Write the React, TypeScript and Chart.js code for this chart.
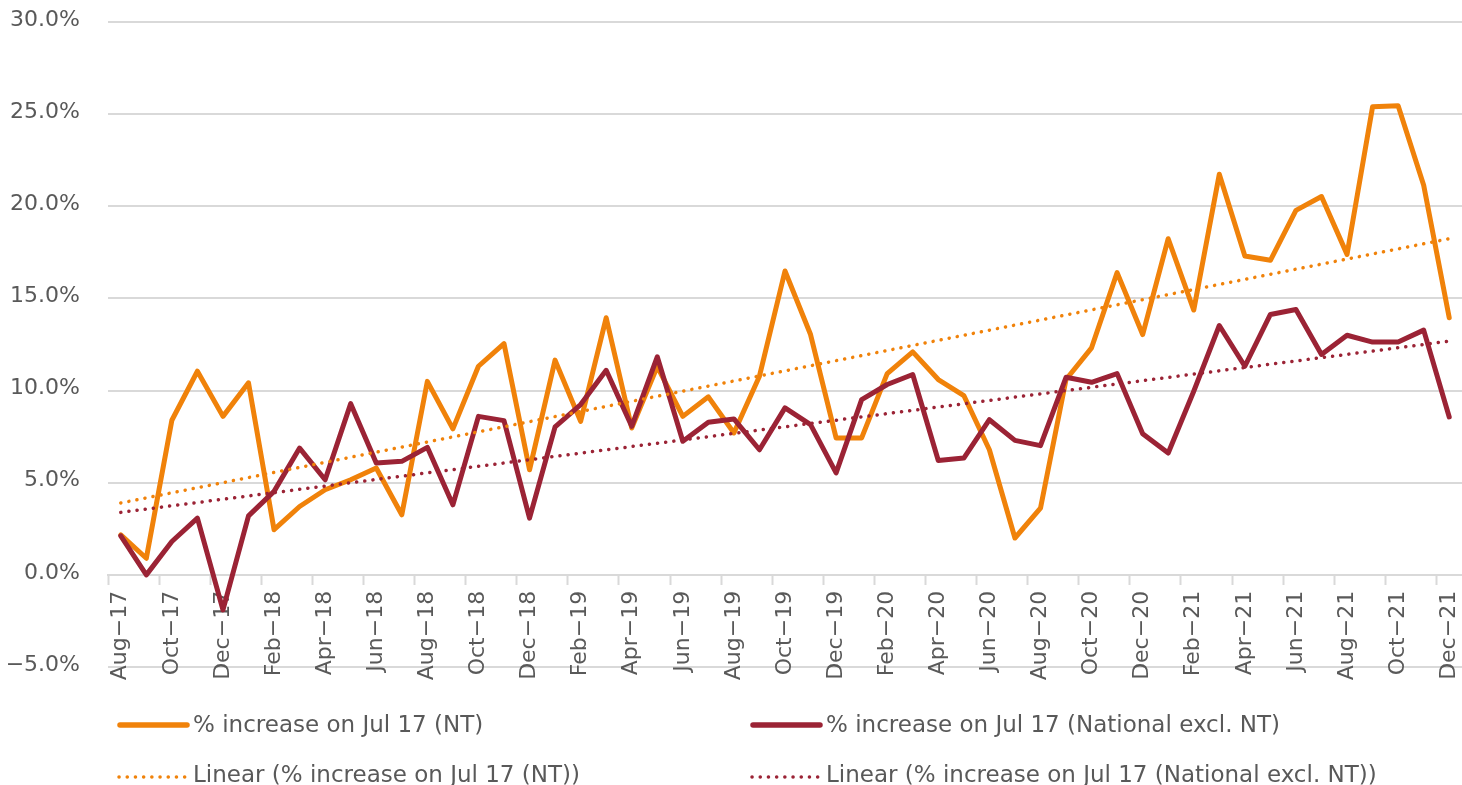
import React, { useEffect, useRef } from 'react';
import { Chart, registerables } from 'chart.js';

Chart.register(...registerables);

// ---- data ----
const months = [
  'Aug−17', 'Sep−17', 'Oct−17', 'Nov−17', 'Dec−17',
  'Jan−18', 'Feb−18', 'Mar−18', 'Apr−18', 'May−18', 'Jun−18', 'Jul−18', 'Aug−18', 'Sep−18', 'Oct−18', 'Nov−18', 'Dec−18',
  'Jan−19', 'Feb−19', 'Mar−19', 'Apr−19', 'May−19', 'Jun−19', 'Jul−19', 'Aug−19', 'Sep−19', 'Oct−19', 'Nov−19', 'Dec−19',
  'Jan−20', 'Feb−20', 'Mar−20', 'Apr−20', 'May−20', 'Jun−20', 'Jul−20', 'Aug−20', 'Sep−20', 'Oct−20', 'Nov−20', 'Dec−20',
  'Jan−21', 'Feb−21', 'Mar−21', 'Apr−21', 'May−21', 'Jun−21', 'Jul−21', 'Aug−21', 'Sep−21', 'Oct−21', 'Nov−21', 'Dec−21',
];

// % increase on Jul 17 (NT)
const ntValues = [
  2.17, 0.9, 8.39, 11.05, 8.6,
  10.42, 2.45, 3.71, 4.62, 5.16, 5.8, 3.26, 10.5, 7.92, 11.32, 12.55, 5.7,
  11.65, 8.33, 13.95, 7.97, 11.3, 8.6, 9.66, 7.7, 10.78, 16.49, 13.04, 7.43,
  7.43, 10.92, 12.1, 10.6, 9.73, 6.79, 2.0, 3.62, 10.6, 12.32, 16.4, 13.04,
  18.24, 14.37, 21.74, 17.3, 17.07, 19.78, 20.53, 17.39, 25.4, 25.45, 21.14, 13.95,
];

// % increase on Jul 17 (National excl. NT)
const nationalValues = [
  2.12, 0.0, 1.81, 3.08, -1.9,
  3.2, 4.53, 6.88, 5.16, 9.29, 6.07, 6.16, 6.92, 3.8, 8.6, 8.37, 3.08,
  8.03, 9.24, 11.1, 8.06, 11.83, 7.25, 8.28, 8.46, 6.79, 9.06, 8.15, 5.53,
  9.51, 10.33, 10.87, 6.21, 6.34, 8.42, 7.3, 7.01, 10.72, 10.45, 10.92, 7.66,
  6.61, 9.96, 13.53, 11.32, 14.13, 14.4, 11.96, 13.0, 12.63, 12.63, 13.28, 8.57,
];

// linear trend lines: value at first month, value at last month
const ntTrend = [3.9, 18.24];
const nationalTrend = [3.39, 12.68];

const seriesNames = [
  '% increase on Jul 17 (NT)',
  '% increase on Jul 17 (National excl. NT)',
  'Linear (% increase on Jul 17 (NT))',
  'Linear (% increase on Jul 17 (National excl. NT))',
];

const yMin = -5;
const yMax = 30;
const yStep = 5;

// ---- styles ----
const ORANGE = '#F0820A';
const RED = '#9B2335';
const TEXT = '#595959';
const GRID = '#d9d9d9';
const FONT = '"DejaVu Sans", sans-serif';
const DOT_DASH = [0.1, 8.1];

function trendSeries(endpoints: number[]) {
  return months.map((_, i) => (i === 0 ? endpoints[0] : i === months.length - 1 ? endpoints[1] : null));
}

const legendPlugin = {
  id: 'gridLegend',
  afterDraw(chart: any) {
    const ctx = chart.ctx as CanvasRenderingContext2D;
    const slots = [
      { x: 117, y: 725, base: 732 },
      { x: 750, y: 725, base: 732 },
      { x: 117, y: 777, base: 782 },
      { x: 750, y: 777, base: 782 },
    ];
    chart.data.datasets.forEach((ds: any, i: number) => {
      const s = slots[i];
      if (!s) return;
      ctx.save();
      ctx.strokeStyle = ds.borderColor;
      ctx.lineCap = 'round';
      if (ds.borderDash && ds.borderDash.length) {
        ctx.lineWidth = 3.5;
        ctx.setLineDash(DOT_DASH);
        ctx.beginPath();
        ctx.moveTo(s.x + 2, s.y);
        ctx.lineTo(s.x + 72, s.y);
        ctx.stroke();
      } else {
        ctx.lineWidth = 5.5;
        ctx.beginPath();
        ctx.moveTo(s.x + 3, s.y);
        ctx.lineTo(s.x + 70, s.y);
        ctx.stroke();
      }
      ctx.setLineDash([]);
      ctx.fillStyle = TEXT;
      ctx.font = `23px ${FONT}`;
      ctx.textAlign = 'left';
      ctx.textBaseline = 'alphabetic';
      ctx.fillText(ds.label, s.x + 76, s.base);
      ctx.restore();
    });
  },
};

export default function App() {
  const canvasRef = useRef<HTMLCanvasElement | null>(null);

  useEffect(() => {
    const canvas = canvasRef.current;
    if (!canvas) return;
    const chart = new Chart(canvas, {
      type: 'line',
      data: {
        labels: months,
        datasets: [
          {
            label: seriesNames[0],
            data: ntValues,
            borderColor: ORANGE,
            backgroundColor: ORANGE,
            borderWidth: 5,
            pointRadius: 0,
            tension: 0,
            borderJoinStyle: 'round',
            borderCapStyle: 'round',
            order: 3,
          },
          {
            label: seriesNames[1],
            data: nationalValues,
            borderColor: RED,
            backgroundColor: RED,
            borderWidth: 5,
            pointRadius: 0,
            tension: 0,
            borderJoinStyle: 'round',
            borderCapStyle: 'round',
            order: 2,
          },
          {
            label: seriesNames[2],
            data: trendSeries(ntTrend),
            borderColor: ORANGE,
            backgroundColor: ORANGE,
            borderWidth: 3.5,
            borderDash: DOT_DASH,
            borderCapStyle: 'round',
            pointRadius: 0,
            spanGaps: true,
            order: 1,
          },
          {
            label: seriesNames[3],
            data: trendSeries(nationalTrend),
            borderColor: RED,
            backgroundColor: RED,
            borderWidth: 3.5,
            borderDash: DOT_DASH,
            borderCapStyle: 'round',
            pointRadius: 0,
            spanGaps: true,
            order: 0,
          },
        ],
      },
      options: {
        responsive: false,
        animation: false,
        events: [],
        layout: { padding: { left: 0, top: 22, right: 0, bottom: 118 } },
        plugins: {
          legend: { display: false },
          tooltip: { enabled: false },
        },
        scales: {
          x: {
            type: 'category',
            position: { y: 0 } as any,
            offset: true,
            afterFit: (scale: any) => {
              scale.paddingLeft = 0;
              scale.paddingRight = 0;
            },
            grid: {
              offset: true,
              drawOnChartArea: false,
              drawTicks: true,
              tickLength: 9,
              tickWidth: 2,
              tickColor: (c: any) => (c.index % 2 === 0 ? GRID : 'rgba(0,0,0,0)'),
            },
            border: { display: true, color: GRID, width: 2 },
            ticks: {
              autoSkip: false,
              minRotation: 90,
              maxRotation: 90,
              padding: 7,
              color: TEXT,
              font: { family: FONT, size: 22 },
              callback: (_v: any, i: number) => (i % 2 === 0 ? months[i] : ''),
            },
          },
          y: {
            type: 'linear',
            min: yMin,
            max: yMax,
            afterFit: (scale: any) => {
              scale.width = 108;
              scale.paddingTop = 0;
              scale.paddingBottom = 0;
            },
            grid: {
              color: GRID,
              lineWidth: 2,
              drawTicks: false,
            },
            border: { display: false },
            ticks: {
              stepSize: yStep,
              padding: 28,
              labelOffset: -2,
              color: TEXT,
              font: { family: FONT, size: 22 },
              callback: (v: any) => {
                const n = Number(v);
                return (n < 0 ? '−' : '') + Math.abs(n).toFixed(1) + '%';
              },
            },
          },
        },
      },
      plugins: [legendPlugin],
    } as any);
    return () => chart.destroy();
  }, []);

  return (
    <div style={{ position: 'absolute', left: 0, top: 0, width: 1462, height: 785, background: '#fff' }}>
      <canvas ref={canvasRef} width={1462} height={785} style={{ display: 'block' }} />
    </div>
  );
}
